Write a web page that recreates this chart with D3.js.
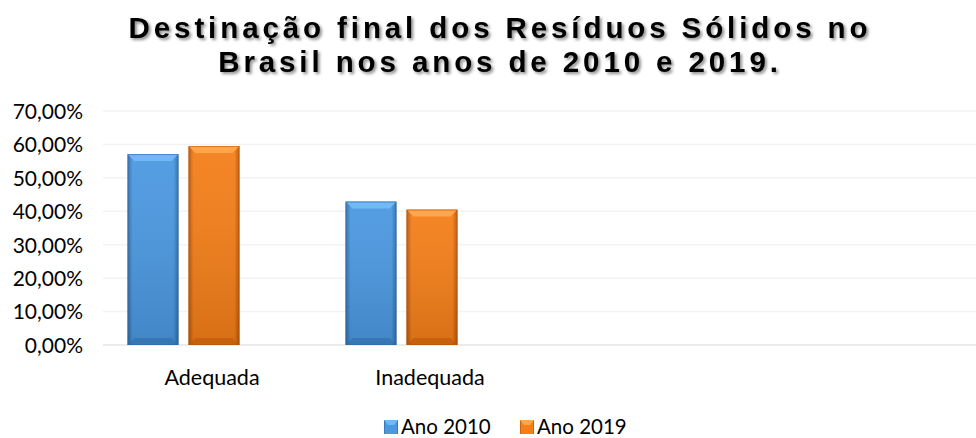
<!DOCTYPE html>
<html>
<head>
<meta charset="utf-8">
<script src="https://cdn.jsdelivr.net/npm/d3@7"></script>
<style>
    body { margin: 0; background: #fff; }
    svg { display: block; }
    .tick text { font-family: Lato, "Open Sans", sans-serif; }
</style>
</head>
<body>
<div id="plot"></div>
<script>
// Chart values.
var categories = ["Adequada", "Inadequada"];
var series = ["Ano 2010", "Ano 2019"];
var values_2010 = [0.571, 0.429];
var values_2019 = [0.595, 0.405];
var y_ticks = [0, 0.1, 0.2, 0.3, 0.4, 0.5, 0.6, 0.7];
var title_lines = ["Destinação final dos Resíduos Sólidos no", "Brasil nos anos de 2010 e 2019."];

var width = 976, height = 438;
var colors = {
    "Ano 2010": {mid: "#4a98e0", light: "#72b8f4", dark: "#2f6aa6"},
    "Ano 2019": {mid: "#f47e18", light: "#ffa64e", dark: "#b85508"}
};

var svg = d3.select("div#plot").append("svg")
    .attr("width", width)
    .attr("height", height)
    .attr("viewBox", "0 0 " + width + " " + height);

var defs = svg.append("defs");

// Shadow behind the title.
var shadow = defs.append("filter").attr("id", "title_shadow")
    .attr("x", "-5%").attr("y", "-20%").attr("width", "110%").attr("height", "150%");
shadow.append("feDropShadow")
    .attr("dx", 2).attr("dy", 2).attr("stdDeviation", 1.6)
    .attr("flood-color", "#000").attr("flood-opacity", 0.45);

// Side gradient for bevelled bars.
series.forEach(function(s, i) {
    var c = colors[s];
    var g = defs.append("linearGradient").attr("id", "bar_grad_" + i)
        .attr("x1", "0").attr("x2", "1").attr("y1", "0").attr("y2", "0");
    g.append("stop").attr("offset", "0").attr("stop-color", c.dark);
    g.append("stop").attr("offset", "0.1").attr("stop-color", c.mid);
    g.append("stop").attr("offset", "0.9").attr("stop-color", c.mid);
    g.append("stop").attr("offset", "1").attr("stop-color", c.dark);

    var v = defs.append("linearGradient").attr("id", "bar_shade_" + i)
        .attr("x1", "0").attr("x2", "0").attr("y1", "0").attr("y2", "1");
    v.append("stop").attr("offset", "0").attr("stop-color", "#fff").attr("stop-opacity", 0.06);
    v.append("stop").attr("offset", "1").attr("stop-color", "#000").attr("stop-opacity", 0.12);
});

// Title.
var title = svg.append("g").attr("filter", "url(#title_shadow)");
title.selectAll("text")
    .data(title_lines)
    .join("text")
        .attr("x", width / 2 + 12)
        .attr("y", (d, i) => 38 + i * 34)
        .attr("text-anchor", "middle")
        .style("font-family", "'Liberation Sans', Arial, sans-serif")
        .style("font-weight", "bold")
        .style("font-size", "29.5px")
        .style("letter-spacing", "3.9px")
        .style("fill", "#000")
        .text(d => d);

// Scales. Four category slots, three series slots (as in the source sheet).
var x0 = d3.scaleBand()
    .domain(d3.range(4))
    .range([105, 977]);

var x1 = d3.scaleBand()
    .domain(d3.range(3))
    .range([22.5, x0.bandwidth() - 22.5])
    .paddingInner(10 / 61);

var y = d3.scaleLinear()
    .domain([0, 0.7])
    .range([345, 111]);

// Grid lines.
svg.append("g").attr("id", "grid")
    .selectAll("line")
    .data(y_ticks)
    .join("line")
        .attr("x1", 103)
        .attr("x2", 976)
        .attr("y1", d => y(d))
        .attr("y2", d => y(d))
        .style("stroke", d => d === 0 ? "#e6e6e6" : "#f3f3f3")
        .style("stroke-width", 1.5);

// Y axis.
var fmt = d => d3.format(".2f")(d * 100).replace(".", ",") + "%";
var g_y_axis = svg.append("g").attr("id", "y_axis")
    .attr("transform", "translate(" + 83 + ", 0)")
    .call(d3.axisLeft(y).tickValues(y_ticks).tickFormat(fmt).tickSize(0).tickPadding(0));
g_y_axis.select(".domain").remove();
g_y_axis.selectAll("text")
    .attr("dy", "0.35em")
    .style("font-size", "21px")
    .style("fill", "#000");

// X labels.
svg.append("g").attr("id", "x_labels")
    .selectAll("text")
    .data(categories)
    .join("text")
        .attr("x", (d, i) => x0(i) + x0.bandwidth() / 2 - 2)
        .attr("y", 385)
        .attr("text-anchor", "middle")
        .style("font-family", "Lato, 'Open Sans', sans-serif")
        .style("font-size", "21.5px")
        .style("fill", "#000")
        .text(d => d);

// Bars.
var bar_data = [];
categories.forEach(function(c, i) {
    bar_data.push({cat: i, s: 0, value: values_2010[i]});
    bar_data.push({cat: i, s: 1, value: values_2019[i]});
});

var g_bars = svg.append("g").attr("id", "bars");
var bars = g_bars.selectAll("g.bar")
    .data(bar_data)
    .join("g")
        .attr("class", "bar")
        .attr("transform", d => "translate(" + (x0(d.cat) + x1(d.s)) + ",0)");

var bw = x1.bandwidth();
var bev = 7;

bars.append("rect")
    .attr("x", 0)
    .attr("y", d => y(d.value))
    .attr("width", bw)
    .attr("height", d => y(0) - y(d.value))
    .style("fill", d => "url(#bar_grad_" + d.s + ")");

bars.append("rect")
    .attr("x", 0)
    .attr("y", d => y(d.value))
    .attr("width", bw)
    .attr("height", d => y(0) - y(d.value))
    .style("fill", d => "url(#bar_shade_" + d.s + ")");

// Top bevel.
bars.append("polygon")
    .attr("points", d => {
        var t = y(d.value);
        return [[0, t], [bw, t], [bw - bev, t + bev], [bev, t + bev]].join(" ");
    })
    .style("fill", d => colors[series[d.s]].light);

// Bottom bevel.
bars.append("polygon")
    .attr("points", d => {
        var b = y(0);
        return [[0, b], [bev, b - bev], [bw - bev, b - bev], [bw, b]].join(" ");
    })
    .style("fill", d => colors[series[d.s]].dark)
    .style("opacity", 0.55);

bars.append("rect")
    .attr("x", 0.5)
    .attr("y", d => y(d.value) + 0.5)
    .attr("width", bw - 1)
    .attr("height", d => y(0) - y(d.value) - 1)
    .style("fill", "none")
    .style("stroke", d => colors[series[d.s]].dark)
    .style("stroke-opacity", 0.6);

// Legend.
var legend_x = [384, 520];
var legend = svg.append("g").attr("id", "legend")
    .selectAll("g")
    .data(series)
    .join("g")
        .attr("transform", (d, i) => "translate(" + legend_x[i] + ",420)");

legend.append("rect")
    .attr("width", 14).attr("height", 14)
    .style("fill", (d, i) => "url(#bar_grad_" + i + ")");
legend.append("polygon")
    .attr("points", "0,0 14,0 10,5 4,5")
    .style("fill", d => colors[d].light);
legend.append("text")
    .attr("x", 17)
    .attr("y", 14)
    .style("font-family", "Lato, 'Open Sans', sans-serif")
    .style("font-size", "20.5px")
    .style("fill", "#000")
    .text(d => d);
</script>
</body>
</html>
